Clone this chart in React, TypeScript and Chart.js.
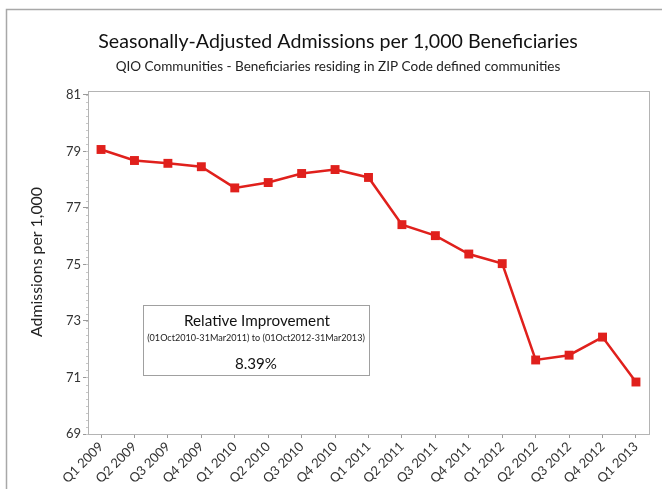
import React, { useEffect, useRef } from "react";
import { Chart, registerables } from "chart.js";

Chart.register(...registerables);

const categories = [
  "Q1 2009", "Q2 2009", "Q3 2009", "Q4 2009",
  "Q1 2010", "Q2 2010", "Q3 2010", "Q4 2010",
  "Q1 2011", "Q2 2011", "Q3 2011", "Q4 2011",
  "Q1 2012", "Q2 2012", "Q3 2012", "Q4 2012",
  "Q1 2013",
];
const admissions = [
  79.07, 78.68, 78.58, 78.46,
  77.71, 77.90, 78.22, 78.36,
  78.08, 76.41, 76.02, 75.37,
  75.03, 71.62, 71.79, 72.43,
  70.84,
];
const yTicks = [69, 71, 73, 75, 77, 79, 81];
const titleText = "Seasonally-Adjusted Admissions per 1,000 Beneficiaries";
const subtitleText = "QIO Communities - Beneficiaries residing in ZIP Code defined communities";
const yAxisTitle = "Admissions per 1,000";
const boxTitle = "Relative Improvement";
const boxPeriod = "(01Oct2010-31Mar2011) to (01Oct2012-31Mar2013)";
const boxValue = "8.39%";

const FONT = "Lato";

function fitFont(ctx: CanvasRenderingContext2D, text: string, width: number) {
  ctx.font = `20px ${FONT}`;
  const w = ctx.measureText(text).width;
  const size = (20 * width) / w;
  return `${size.toFixed(2)}px ${FONT}`;
}

const decorPlugin = {
  id: "decor",
  beforeDraw(chart: any) {
    const ctx = chart.ctx as CanvasRenderingContext2D;
    ctx.save();
    ctx.fillStyle = "#fff";
    ctx.fillRect(0, 0, chart.width, chart.height);
    ctx.strokeStyle = "#a8a8a8";
    ctx.lineWidth = 1.5;
    ctx.beginPath();
    ctx.moveTo(6.5, chart.height);
    ctx.lineTo(6.5, 9.5);
    ctx.lineTo(chart.width, 9.5);
    ctx.stroke();
    ctx.restore();
  },
  afterDraw(chart: any) {
    const ctx = chart.ctx as CanvasRenderingContext2D;
    const a = chart.chartArea;
    const ys = chart.scales.y;
    ctx.save();
    ctx.strokeStyle = "#b4b4b4";
    ctx.lineWidth = 1;
    ctx.strokeRect(Math.round(a.left) + 0.5, Math.round(a.top) + 0.5, Math.round(a.right - a.left), Math.round(a.bottom - a.top));
    ctx.strokeStyle = "#c8c8c8";
    ctx.beginPath();
    for (let v = 69; v <= 81.001; v += 0.25) {
      const p = Math.round(ys.getPixelForValue(v)) + 0.5;
      ctx.moveTo(a.left - 2, p);
      ctx.lineTo(a.left, p);
    }
    ctx.stroke();

    ctx.fillStyle = "#111";
    ctx.textAlign = "center";
    ctx.textBaseline = "alphabetic";
    ctx.font = fitFont(ctx, titleText, 480);
    ctx.fillText(titleText, 338, 48);
    ctx.fillStyle = "#222";
    ctx.font = fitFont(ctx, subtitleText, 445);
    ctx.fillText(subtitleText, 338, 71);

    ctx.save();
    ctx.translate(37, 262);
    ctx.rotate(-Math.PI / 2);
    ctx.fillStyle = "#222";
    ctx.textBaseline = "middle";
    ctx.font = fitFont(ctx, yAxisTitle, 150);
    ctx.fillText(yAxisTitle, 0, 0);
    ctx.restore();

    ctx.strokeStyle = "#a0a0a0";
    ctx.lineWidth = 1;
    ctx.strokeRect(143.5, 305.5, 226, 70);
    ctx.fillStyle = "#111";
    ctx.textBaseline = "middle";
    ctx.font = fitFont(ctx, boxTitle, 146);
    ctx.fillText(boxTitle, 257, 321);
    ctx.fillStyle = "#222";
    ctx.font = fitFont(ctx, boxPeriod, 218);
    ctx.fillText(boxPeriod, 256, 338);
    ctx.fillStyle = "#111";
    ctx.font = fitFont(ctx, boxValue, 42);
    ctx.fillText(boxValue, 256, 364);
    ctx.restore();
  },
};

export default function App() {
  const ref = useRef<HTMLCanvasElement | null>(null);
  useEffect(() => {
    if (!ref.current) return;
    const chart = new Chart(ref.current, {
      type: "line",
      data: {
        datasets: [
          {
            data: admissions.map((v, i) => ({ x: i, y: v })),
            borderColor: "#e0201c",
            backgroundColor: "#e0201c",
            borderWidth: 2.5,
            pointStyle: "rect",
            pointRadius: 6.3,
            pointBorderWidth: 0,
            pointBackgroundColor: "#e0201c",
            tension: 0,
          },
        ],
      },
      options: {
        responsive: false,
        animation: false,
        devicePixelRatio: 1,
        layout: { padding: { top: 91, right: 13, left: 0, bottom: 0 } },
        plugins: {
          legend: { display: false },
          title: { display: false },
          tooltip: { enabled: false },
        },
        scales: {
          x: {
            type: "linear",
            min: -0.39,
            max: 16.39,
            afterBuildTicks: (s: any) => {
              s.ticks = categories.map((_, i) => ({ value: i }));
            },
            afterFit: (s: any) => {
              s.height = 55;
            },
            ticks: {
              autoSkip: false,
              maxRotation: 45,
              minRotation: 45,
              padding: 1,
              color: "#333",
              font: { family: FONT, size: 13 },
              callback: (v: any) => categories[v as number] ?? "",
            },
            grid: { drawOnChartArea: false, drawTicks: true, tickLength: 4, color: "#999" },
            border: { display: true, color: "#b4b4b4" },
          },
          y: {
            type: "linear",
            min: 69,
            max: 81.14,
            afterBuildTicks: (s: any) => {
              s.ticks = yTicks.map((v) => ({ value: v }));
            },
            afterFit: (s: any) => {
              s.width = 88;
            },
            ticks: {
              padding: 2,
              color: "#333",
              font: { family: FONT, size: 13 },
              callback: (v: any) => String(v),
            },
            grid: { drawOnChartArea: false, drawTicks: true, tickLength: 5, color: "#999" },
            border: { display: true, color: "#b4b4b4" },
          },
        },
      },
      plugins: [decorPlugin],
    });
    return () => chart.destroy();
  }, []);
  return (
    <div style={{ position: "fixed", left: 0, top: 0, width: 662, height: 489, background: "#fff" }}>
      <canvas ref={ref} width={662} height={489} style={{ display: "block" }} />
    </div>
  );
}
